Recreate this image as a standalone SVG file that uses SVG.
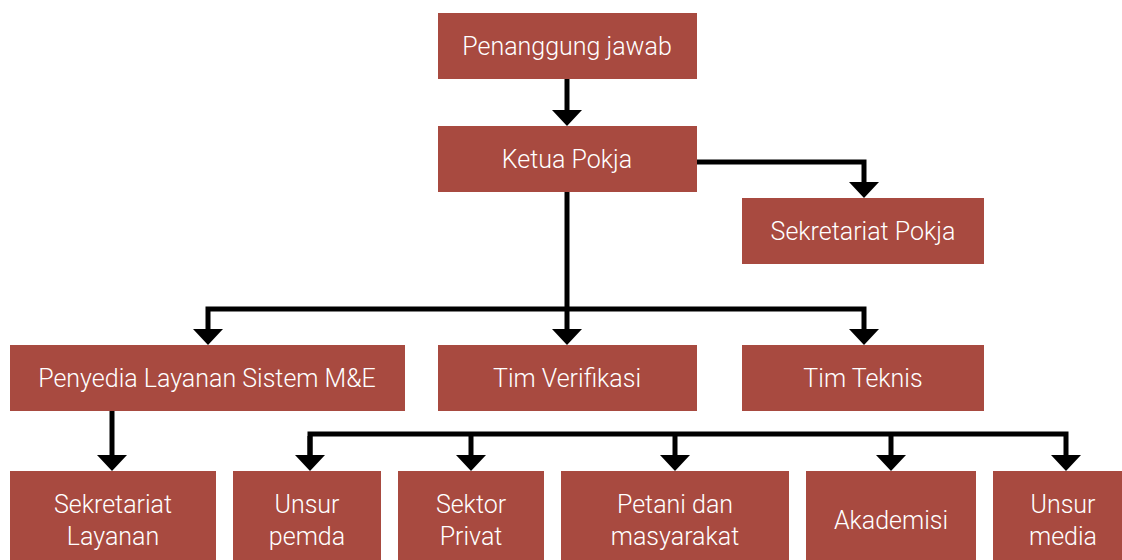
<svg xmlns="http://www.w3.org/2000/svg" width="1122" height="560" viewBox="0 0 1122 560">
<style>
.box{fill:#A84A40}
.t{font-family:Roboto,"Liberation Sans",sans-serif;font-size:25px;font-weight:300;fill:#ffffff;text-anchor:middle}
.c{fill:none;stroke:#000;stroke-width:5;stroke-linejoin:miter}
</style>
<defs>
<marker id="ah" markerUnits="userSpaceOnUse" viewBox="0 0 16 30" markerWidth="16" markerHeight="30" refX="8" refY="15" orient="auto">
<path d="M0,0 L16,15 L0,30 z" fill="#000"/>
</marker>
</defs>
<rect width="1122" height="560" fill="#fff"/>
<g id="connectors">
<path class="c" d="M567,79 V118" marker-end="url(#ah)"/>
<path class="c" d="M697,162 H864 V190" marker-end="url(#ah)"/>
<path class="c" d="M567,192 V337" marker-end="url(#ah)"/>
<path class="c" d="M567,309 H208 V337" marker-end="url(#ah)"/>
<path class="c" d="M567,309 H864 V337" marker-end="url(#ah)"/>
<path class="c" d="M112,411 V463" marker-end="url(#ah)"/>
<path class="c" d="M310,463 V434 H1066 V463" marker-end="url(#ah)"/>
<path class="c" d="M310,436 V463" marker-end="url(#ah)"/>
<path class="c" d="M471,434 V463" marker-end="url(#ah)"/>
<path class="c" d="M675,434 V463" marker-end="url(#ah)"/>
<path class="c" d="M891,434 V463" marker-end="url(#ah)"/>
</g>
<g id="n1"><rect class="box" x="438" y="13" width="259" height="66"/><text class="t" x="567" y="55">Penanggung jawab</text></g>
<g id="n2"><rect class="box" x="438" y="126" width="259" height="66"/><text class="t" x="567" y="168">Ketua Pokja</text></g>
<g id="n3"><rect class="box" x="742" y="198" width="242" height="66"/><text class="t" x="863" y="240">Sekretariat Pokja</text></g>
<g id="n4"><rect class="box" x="10" y="345" width="395" height="66"/><text class="t" x="207" y="387">Penyedia Layanan Sistem M&amp;E</text></g>
<g id="n5"><rect class="box" x="438" y="345" width="259" height="66"/><text class="t" x="567" y="387">Tim Verifikasi</text></g>
<g id="n6"><rect class="box" x="742" y="345" width="242" height="66"/><text class="t" x="863" y="387">Tim Teknis</text></g>
<g id="n7"><rect class="box" x="10" y="471" width="206" height="100"/><text class="t" x="113" y="513">Sekretariat</text><text class="t" x="113" y="545">Layanan</text></g>
<g id="n8"><rect class="box" x="233" y="471" width="148" height="100"/><text class="t" x="307" y="513">Unsur</text><text class="t" x="307" y="545">pemda</text></g>
<g id="n9"><rect class="box" x="398" y="471" width="146" height="100"/><text class="t" x="471" y="513">Sektor</text><text class="t" x="471" y="545">Privat</text></g>
<g id="n10"><rect class="box" x="561" y="471" width="228" height="100"/><text class="t" x="675" y="513">Petani dan</text><text class="t" x="675" y="545">masyarakat</text></g>
<g id="n11"><rect class="box" x="806" y="471" width="170" height="100"/><text class="t" x="891" y="529">Akademisi</text></g>
<g id="n12"><rect class="box" x="993" y="471" width="140" height="100"/><text class="t" x="1063" y="513">Unsur</text><text class="t" x="1063" y="545">media</text></g>
</svg>
